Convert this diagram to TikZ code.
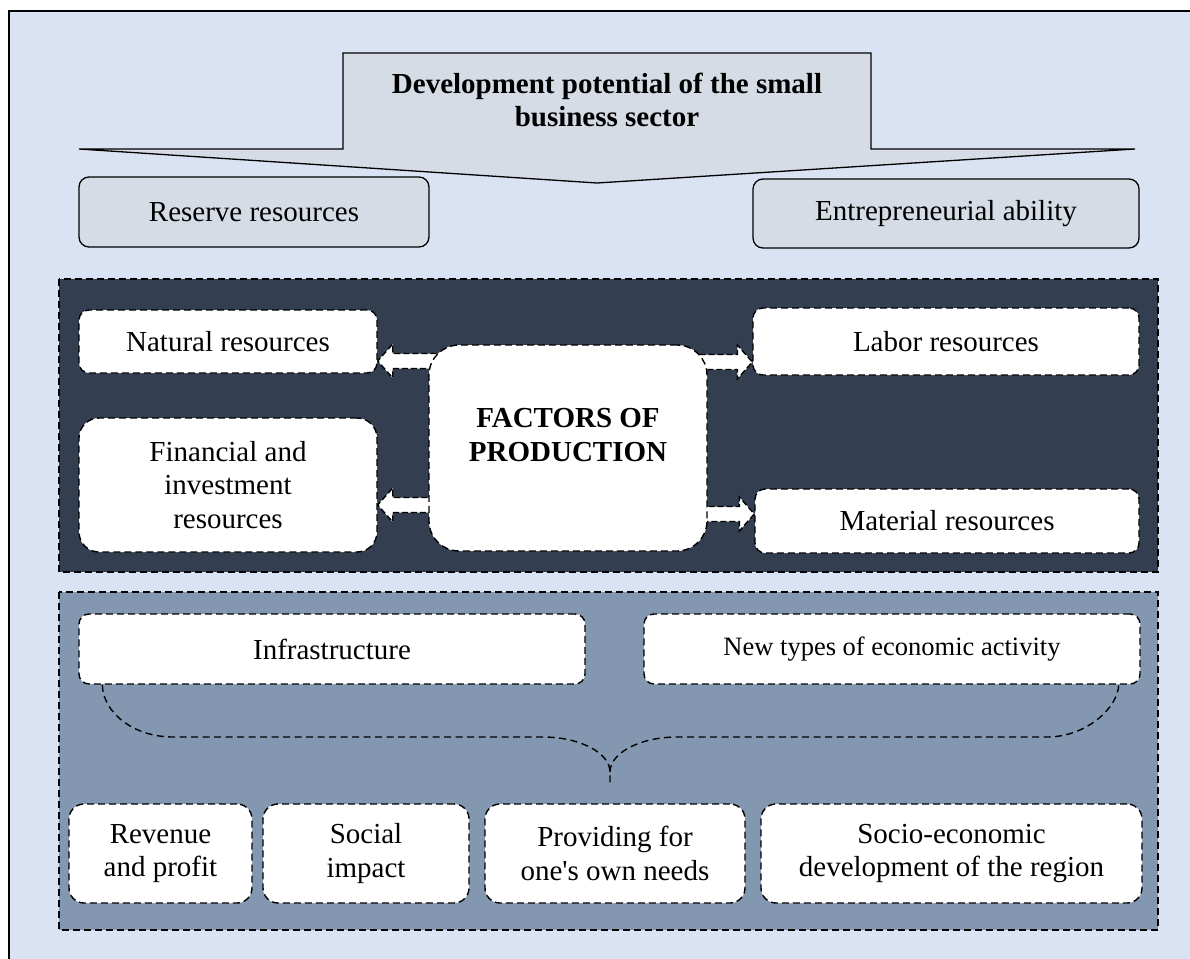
\documentclass[tikz,border=0pt]{standalone}
\usepackage{fontspec}
\setmainfont{Liberation Serif}[Ligatures=TeXOff]
\usetikzlibrary{calc}
\definecolor{bgblue}{HTML}{DAE3F3}
\definecolor{boxgray}{HTML}{D6DCE5}
\definecolor{darkpanel}{HTML}{333F50}
\definecolor{medpanel}{HTML}{8497B0}
\newcommand\fsA{\fontsize{29}{33.5}\selectfont}
\newcommand\fsB{\fontsize{26.5}{31}\selectfont}
\newcommand\myarrowL[2]{\draw[blockarr] let \p1=(#1), \p2=(#2) in (\x1,\y1+7.5pt) -- (\x2+15pt,\y1+7.5pt) -- (\x2+15pt,\y1+17pt) -- (\x2,\y1) -- (\x2+15pt,\y1-17pt) -- (\x2+15pt,\y1-7.5pt) -- (\x1,\y1-7.5pt);}
\newcommand\myarrowR[2]{\draw[blockarr] let \p1=(#1), \p2=(#2) in (\x1,\y1+7.5pt) -- (\x2-15pt,\y1+7.5pt) -- (\x2-15pt,\y1+17pt) -- (\x2,\y1) -- (\x2-15pt,\y1-17pt) -- (\x2-15pt,\y1-7.5pt) -- (\x1,\y1-7.5pt);}
\pgfdeclarelayer{back}
\pgfdeclarelayer{mid}
\pgfsetlayers{back,mid,main}
\begin{document}
\begin{tikzpicture}[x=1pt,y=-1pt,
  solidbox/.style={draw=black, fill=boxgray, line width=1.3pt, rounded corners=10pt, font=\fsA, align=center, inner sep=0pt},
  dashbox/.style={draw=black, fill=white, line width=1.4pt, dash pattern=on 7pt off 4pt, rounded corners=#1, font=\fsA, align=center, inner sep=0pt},
  dashbox/.default=10pt,
  panel/.style={draw=black, line width=1.4pt, dash pattern=on 7pt off 4pt},
  blockarr/.style={draw=black, fill=white, line width=1.4pt, dash pattern=on 6pt off 3pt, line join=miter},
  bracel/.style={draw=black, line width=1.4pt, dash pattern=on 7pt off 4.5pt},
  titletext/.style={font=\fsA\bfseries, align=center, inner sep=0pt}
]
\useasboundingbox (0,0) rectangle (1190,958);
\begin{pgfonlayer}{back}
\fill[white] (0,0) rectangle (1190,958);
\begin{scope}
\clip (0,0) rectangle (1190,958);
\draw[fill=bgblue, line width=1.4pt] (9,11) rectangle (1200,975);
\end{scope}
\draw[panel, fill=darkpanel] (59,279) rectangle (1158,572);
\draw[panel, fill=medpanel] (59,592) rectangle (1158,930);
\end{pgfonlayer}

% top arrow
\draw[fill=boxgray, line width=1.3pt, line join=miter] (343,53) -- (871,53) -- (871,149) -- (1135,149) -- (597,183) -- (79,149) -- (343,149) -- cycle;
\node[titletext] (title) at (607,100) {Development potential of the small\\business sector};

\node[solidbox, minimum width=350pt, minimum height=70pt] (res) at (254,212) {Reserve resources};
\node[solidbox, minimum width=386pt, minimum height=69pt] (ent) at (946,213.5) {Entrepreneurial ability};

\node[dashbox, minimum width=298pt, minimum height=63pt] (nat) at (228,341.5) {Natural resources};
\node[dashbox=20pt, minimum width=298pt, minimum height=134pt] (fin) at (228,485) {Financial and\\investment\\resources};
\node[dashbox=30pt, minimum width=278pt, minimum height=206pt] (fp) at (568,448) {};
\node[titletext] (fptext) at (568,435) {FACTORS OF\\PRODUCTION};
\node[dashbox, minimum width=386pt, minimum height=67pt] (lab) at (946,341.5) {Labor resources};
\node[dashbox, minimum width=384pt, minimum height=64pt] (mat) at (947,521) {Material resources};

\coordinate (aL1) at ($(fp.west)+(8,-87)$);
\coordinate (aL2) at ($(fp.west)+(8,57)$);
\coordinate (aR1) at ($(fp.east)+(-8,-86)$);
\coordinate (aR2) at ($(fp.east)+(-8,66)$);
\begin{pgfonlayer}{mid}
\myarrowL{aL1}{nat.east}
\myarrowL{aL2}{fin.east}
\myarrowR{aR1}{lab.west}
\myarrowR{aR2}{mat.west}
\end{pgfonlayer}

\node[dashbox, minimum width=506pt, minimum height=70pt] (inf) at (332,649) {Infrastructure};
\node[dashbox, font=\fsB, minimum width=496pt, minimum height=70pt] (newt) at (892,649) {New types of economic activity};

\node[dashbox=15pt, minimum width=183pt, minimum height=99pt] (rev) at (160.5,853.5) {Revenue\\and profit};
\node[dashbox=15pt, minimum width=206pt, minimum height=99pt] (soc) at (366,853.5) {Social\\impact};
\node[dashbox=15pt, minimum width=260pt, minimum height=99pt] (prov) at (615,853.5) {Providing for\\one's own needs};
\node[dashbox=15pt, minimum width=381pt, minimum height=99pt] (socio) at (951.5,853.5) {Socio-economic\\development of the region};

% brace
\coordinate (b1) at ($(inf.south west)+(24,0)$);
\coordinate (b2) at ($(newt.south east)+(-22,0)$);
\coordinate (btip) at ($(prov.north)+(-5,-18)$);
\draw[bracel] (b1) .. controls (103,713) and (134,737) .. (173,737) -- (543,737)
  .. controls (580,737) and (610,753) .. (610,772) -- (btip);
\draw[bracel] (610,772) .. controls (610,753) and (640,737) .. (677,737) -- (1047,737)
  .. controls (1086,737) and (1118,708) .. (b2);
\end{tikzpicture}
\end{document}
